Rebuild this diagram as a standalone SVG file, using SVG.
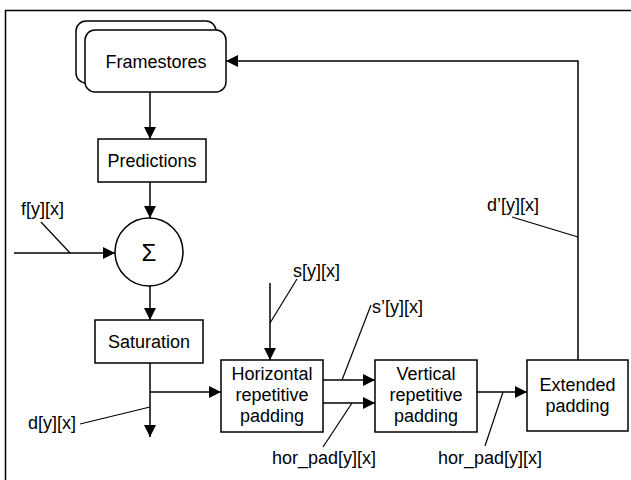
<svg xmlns="http://www.w3.org/2000/svg" width="631" height="480" viewBox="0 0 631 480">
<defs>
<marker id="ah" markerUnits="userSpaceOnUse" markerWidth="12" markerHeight="12" viewBox="0 0 12 12" refX="12" refY="6" orient="auto">
<path d="M0,0 L12,6 L0,12 Z" fill="#000"/>
</marker>
<style>
.b{fill:#fff;stroke:#000;stroke-width:1.5}
.t{font-family:"Liberation Sans",Arial,sans-serif;font-size:18px;fill:#000;text-anchor:middle}
.l{font-family:"Liberation Sans",Arial,sans-serif;font-size:18px;fill:#000}
.c{fill:none;stroke:#000;stroke-width:1.5}
.a{fill:none;stroke:#000;stroke-width:1.5;marker-end:url(#ah)}
.k{fill:none;stroke:#000;stroke-width:1.2}
</style>
</defs>
<rect x="0" y="0" width="631" height="480" fill="#fff"/>
<rect x="5.5" y="10.5" width="640" height="480" class="c"/>

<g id="framestores">
<rect x="76" y="21" width="140" height="62" rx="10" class="b"/>
<rect x="85" y="30" width="141" height="62" rx="10" class="b"/>
<text x="156" y="68" class="t">Framestores</text>
</g>
<g id="predictions">
<rect x="98" y="139" width="108" height="43" class="b"/>
<text x="152" y="167" class="t">Predictions</text>
</g>
<g id="sum">
<circle cx="149" cy="252" r="34" class="b"/>
<text x="149" y="261" class="t" style="font-size:24px">Σ</text>
</g>
<g id="saturation">
<rect x="95" y="320" width="108" height="43" class="b"/>
<text x="149" y="348" class="t">Saturation</text>
</g>
<g id="horizontal">
<rect x="221" y="360" width="102" height="72" class="b"/>
<text x="272" y="380" class="t">Horizontal</text>
<text x="272" y="401" class="t">repetitive</text>
<text x="272" y="422" class="t">padding</text>
</g>
<g id="vertical">
<rect x="375" y="360" width="102" height="72" class="b"/>
<text x="426" y="380" class="t">Vertical</text>
<text x="426" y="401" class="t">repetitive</text>
<text x="426" y="422" class="t">padding</text>
</g>
<g id="extended">
<rect x="527" y="360" width="101" height="71" class="b"/>
<text x="577.5" y="391" class="t">Extended</text>
<text x="577.5" y="412" class="t">padding</text>
</g>

<g id="connectors">
<line x1="150" y1="92" x2="150" y2="139" class="a"/>
<line x1="150" y1="182" x2="150" y2="218" class="a"/>
<line x1="14" y1="253" x2="115" y2="253" class="a"/>
<line x1="150" y1="286" x2="150" y2="320" class="a"/>
<line x1="150" y1="363" x2="150" y2="437" class="a"/>
<line x1="150" y1="392" x2="221" y2="392" class="a"/>
<line x1="270" y1="283" x2="270" y2="360" class="a"/>
<line x1="323" y1="380" x2="375" y2="380" class="a"/>
<line x1="323" y1="403" x2="375" y2="403" class="a"/>
<line x1="477" y1="392" x2="527" y2="392" class="a"/>
<polyline points="578,360 578,61 226,61" class="a"/>
<line x1="41" y1="222" x2="70" y2="253" class="k"/>
<line x1="80" y1="424" x2="150" y2="407" class="k"/>
<line x1="297" y1="279" x2="270" y2="323" class="k"/>
<line x1="371" y1="305" x2="342" y2="380" class="k"/>
<line x1="323" y1="447" x2="352" y2="403" class="k"/>
<line x1="485" y1="446" x2="503" y2="392" class="k"/>
<line x1="512" y1="217" x2="578" y2="237" class="k"/>
</g>

<g id="labels">
<text x="21" y="215" class="l">f[y][x]</text>
<text x="28" y="429" class="l">d[y][x]</text>
<text x="293" y="277" class="l">s[y][x]</text>
<text x="372" y="313" class="l">s’[y][x]</text>
<text x="272" y="464" class="l">hor_pad[y][x]</text>
<text x="438" y="464" class="l">hor_pad[y][x]</text>
<text x="487" y="211" class="l">d’[y][x]</text>
</g>
</svg>
